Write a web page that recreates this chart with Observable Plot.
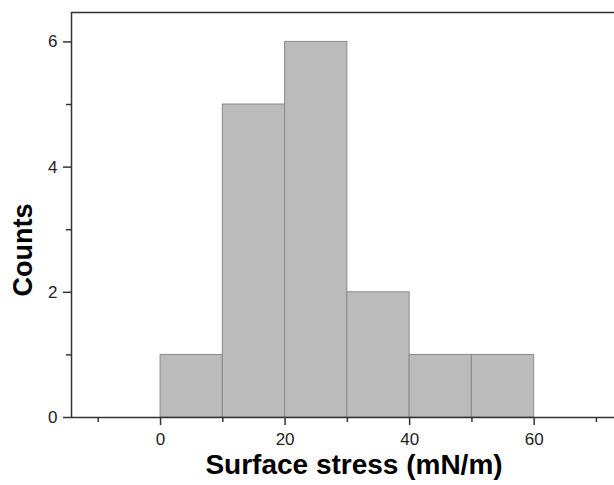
<!DOCTYPE html>
<html>
<head>
<meta charset="utf-8">
<script src="https://cdn.jsdelivr.net/npm/d3@7"></script>
<script src="https://cdn.jsdelivr.net/npm/@observablehq/plot@0.6"></script>
<style>
  html, body { margin: 0; padding: 0; background: #fff; }
  svg { font-family: "Liberation Sans", Arial, sans-serif; }
</style>
</head>
<body>
<div id="chart"></div>
<script>
const binStart = [0, 10, 20, 30, 40, 50];
const binEnd   = [10, 20, 30, 40, 50, 60];
const counts   = [1, 5, 6, 2, 1, 1];
const xMajorTicks = [0, 20, 40, 60];
const xMinorTicks = [-10, 10, 30, 50, 70];
const yMajorTicks = [0, 2, 4, 6];
const yMinorTicks = [1, 3, 5];
const xDomain = [-14.3, 72.9];
const yDomain = [0, 6.47];

const bins = binStart.map((s, i) => ({x1: s, x2: binEnd[i], y: counts[i]}));

const axisColor = "#333";
const fmt = d3.format("d");

const chart = Plot.plot({
  width: 614,
  height: 485,
  marginLeft: 71,
  marginRight: 0,
  marginTop: 12,
  marginBottom: 68,
  style: {fontFamily: "'Liberation Sans', Arial, sans-serif", fontSize: "17px", color: "#222", background: "#fff"},
  x: {domain: xDomain},
  y: {domain: yDomain},
  marks: [
    Plot.rectY(bins, {x1: "x1", x2: "x2", y: "y", fill: "#bbbbbb", stroke: "#8a8a8a", strokeWidth: 1}),
    Plot.axisX(xMajorTicks, {tickSize: 8, tickPadding: 7, tickFormat: fmt, stroke: axisColor, strokeWidth: 1.5, fontSize: 17, fill: "#222", label: null}),
    Plot.axisX(xMinorTicks, {tickSize: 5, text: null, stroke: axisColor, strokeWidth: 1.5, label: null}),
    Plot.axisY(yMajorTicks, {tickSize: 8, tickPadding: 6, tickFormat: fmt, stroke: axisColor, strokeWidth: 1.5, fontSize: 17, fill: "#222", label: null}),
    Plot.axisY(yMinorTicks, {tickSize: 5, text: null, stroke: axisColor, strokeWidth: 1.5, label: null}),
    Plot.ruleY([yDomain[0]], {stroke: axisColor, strokeWidth: 1.5}),
    Plot.ruleY([yDomain[1]], {stroke: axisColor, strokeWidth: 1.5}),
    Plot.ruleX([xDomain[0]], {stroke: axisColor, strokeWidth: 1.5}),
    Plot.text(["Surface stress (mN/m)"], {frameAnchor: "bottom", dx: 11, dy: 56, fontSize: 28, fontWeight: "bold", fill: "#000", textAnchor: "middle"}),
    Plot.text(["Counts"], {frameAnchor: "left", dx: -48, dy: 35, rotate: -90, fontSize: 27, fontWeight: "bold", fill: "#000", textAnchor: "middle"})
  ]
});
document.getElementById("chart").appendChild(chart);
</script>
</body>
</html>
